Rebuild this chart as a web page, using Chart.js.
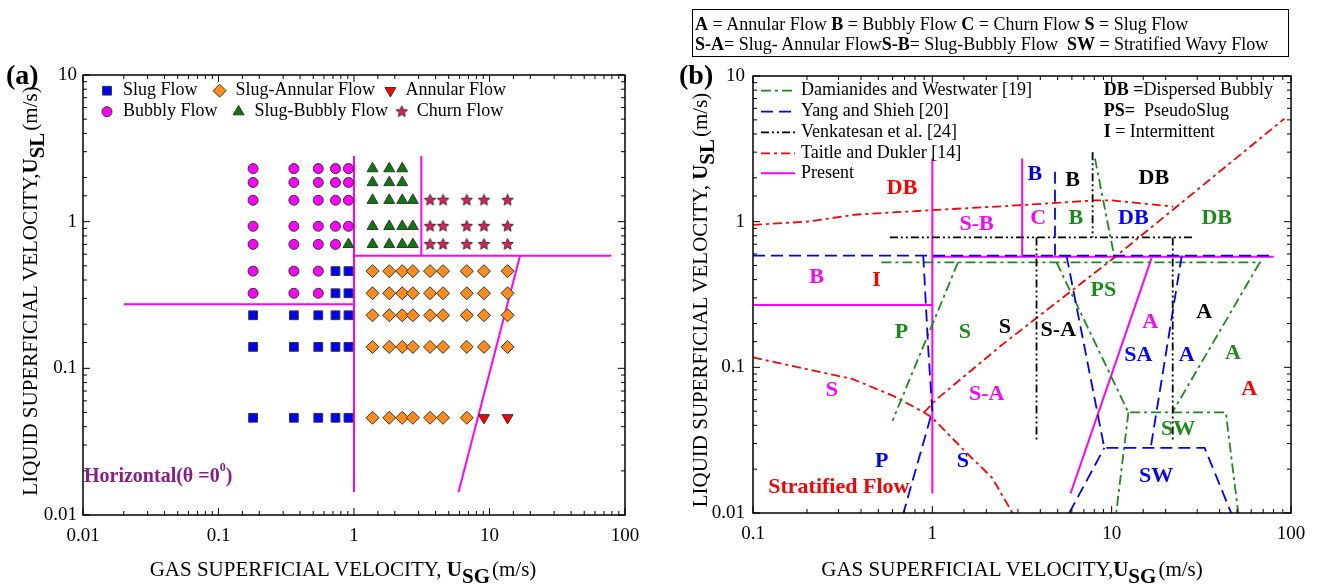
<!DOCTYPE html>
<html>
<head>
<meta charset="utf-8">
<script src="https://cdn.jsdelivr.net/npm/chart.js@4.4.1/dist/chart.umd.min.js"></script>
<style>
  body { margin:0; width:1318px; height:585px; background:#fff; overflow:hidden; position:relative;
         font-family:"Liberation Serif","Times New Roman",serif; }
  canvas { position:absolute; top:0; }
  #chartA { left:0; }
  #chartB { left:660px; }
  .txt { position:absolute; white-space:nowrap; color:#000; }
  .panel { font-size:28px; font-weight:bold; transform:translateY(-50%); }
  .xt { font-size:21px; transform:translate(-50%,-50%); }
  .yt { font-size:21px; transform:translate(-50%,-50%) rotate(-90deg); }
  .xt sub, .yt sub { font-size:1em; vertical-align:-0.35em; line-height:0; }
  .unit { font-size:1em; padding-left:2px; }
  #key { position:absolute; left:692px; top:9px; width:597px; height:48px; box-sizing:border-box;
         border:1px solid #000; font-size:18px; line-height:20px; padding:4px 0 0 2px; white-space:nowrap; }
</style>
</head>
<body>
<canvas id="chartA" width="660" height="585"></canvas>
<canvas id="chartB" width="658" height="585"></canvas>

<div id="key">
  <div><b>A</b> = Annular Flow <b>B</b> = Bubbly Flow <b>C</b> = Churn Flow <b>S</b> = Slug Flow</div>
  <div><b>S-A</b>= Slug- Annular Flow<b>S-B</b>= Slug-Bubbly Flow&nbsp; <b>SW</b> = Stratified Wavy Flow</div>
</div>
<div class="txt panel" style="left:6px;top:75px">(a)</div>
<div class="txt panel" style="left:679px;top:75px">(b)</div>
<div class="txt xt" style="left:343px;top:569px">GAS SUPERFICIAL VELOCITY, <b>U<sub>SG</sub></b><span class="unit">(m/s)</span></div>
<div class="txt xt" style="left:1012px;top:569px">GAS SUPERFICIAL VELOCITY,<b>U<sub>SG</sub></b><span class="unit">(m/s)</span></div>
<div class="txt yt" style="left:30px;top:291px">LIQUID SUPERFICIAL VELOCITY,<b>U<sub>SL</sub></b><span class="unit">(m/s)</span></div>
<div class="txt yt" style="left:700px;top:300px">LIQUID SUPERFICIAL VELOCITY, <b>U<sub>SL</sub></b><span class="unit">(m/s)</span></div>

<script>
// ---- panel (a): measured points ----
const gasA = [0.18, 0.36, 0.545, 0.73, 0.91, 1.37, 1.82, 2.27, 2.72, 3.64, 4.54, 6.8, 9.1, 13.6];
const liquidA = [2.3, 1.85, 1.4, 0.93, 0.7, 0.46, 0.325, 0.23, 0.14, 0.046];
// one letter per gas velocity: B bubbly, T slug-bubbly, C churn, S slug, D slug-annular, N annular, . none
const regimeRows = [
  'BBBBBTTT......',
  'BBBBBTTT......',
  'BBBBBTTTTCCCCC',
  'BBBBBTTTTCCCCC',
  'BBBBTTTTTCCCCC',
  'BBBSSDDDDDDDDD',
  'BBBSSDDDDDDDDD',
  'SSSSSDDDDDDDDD',
  'SSSSSDDDDDDDDD',
  'SSSSSDDDDDDDNN',
];
const regimeNames = { S: 'Slug Flow', D: 'Slug-Annular Flow', N: 'Annular Flow',
                      B: 'Bubbly Flow', T: 'Slug-Bubbly Flow', C: 'Churn Flow' };
const legendOrderA = ['S', 'D', 'N', 'B', 'T', 'C'];

// boundaries of panel (a), [x, y] in m/s
const presentA = [
  [[0.02, 0.273], [1, 0.273]],
  [[1, 2.8], [1, 0.0143]],
  [[1, 0.586], [79, 0.586]],
  [[3.14, 2.8], [3.14, 0.586]],
  [[5.9, 0.0143], [16.8, 0.586]],
];

// ---- panel (b): transition boundaries ----
const damianidesB = [
  [[0.52, 0.525], [68, 0.525]],
  [[1.39, 0.525], [0.6, 0.043]],
  [[8.07, 2.71], [10.5, 0.525]],
  [[4.93, 0.525], [12.4, 0.049], [43.3, 0.049], [50.8, 0.01]],
  [[12.4, 0.049], [10.6, 0.01]],
  [[67, 0.525], [21.8, 0.049]],
];
const yangB = [
  [[0.1, 0.585], [80, 0.585]],
  [[0.89, 0.585], [0.95, 0.13], [1.0, 0.05], [0.69, 0.01]],
  [[4.83, 2.2], [4.83, 0.585]],
  [[5.6, 0.585], [9.1, 0.028], [33, 0.028], [46.4, 0.01]],
  [[5.8, 0.01], [9.1, 0.028]],
  [[24.6, 0.585], [16.5, 0.028]],
];
const venkatesanB = [
  [[0.58, 0.78], [28.5, 0.78]],
  [[3.81, 0.78], [3.81, 0.031]],
  [[7.83, 3.0], [7.83, 0.78]],
  [[21.9, 0.78], [21.9, 0.031]],
];
const taitleB = [
  [[0.1, 0.95], [0.2, 1.0], [0.38, 1.12], [1, 1.2], [3.2, 1.3], [8, 1.4], [10, 1.4], [22, 1.27]],
  [[0.9, 0.049], [1.05, 0.06], [2.4, 0.14], [10.4, 0.57], [92, 5.1]],
  [[0.1, 0.117], [0.36, 0.083], [0.6, 0.064], [0.9, 0.049], [1.0, 0.045], [1.5, 0.027], [2.15, 0.0175], [2.8, 0.01]],
];
const presentB = [
  [[0.1, 0.268], [1, 0.268]],
  [[1, 2.71], [1, 0.0136]],
  [[1, 0.575], [80, 0.575]],
  [[3.17, 2.71], [3.17, 0.575]],
  [[5.9, 0.0136], [16.7, 0.562]],
];
const legendB = [
  ['dam', 'Damianides and Westwater [19]'],
  ['yan', 'Yang and Shieh [20]'],
  ['ven', 'Venkatesan et al. [24]'],
  ['tai', 'Taitle and Dukler [14]'],
  ['pre', 'Present'],
];
// regime labels: text, source, gas velocity, liquid velocity
const regionLabelsB = [
  ['DB', 'tai', 0.678, 1.69], ['S-B', 'pre', 1.765, 0.958], ['B', 'yan', 3.73, 2.12],
  ['C', 'pre', 3.89, 1.05], ['B', 'ven', 6.06, 1.92], ['B', 'dam', 6.32, 1.05],
  ['DB', 'ven', 17.2, 1.98], ['DB', 'yan', 13.2, 1.05], ['DB', 'dam', 38.5, 1.05],
  ['B', 'pre', 0.226, 0.416], ['I', 'tai', 0.489, 0.394], ['P', 'dam', 0.673, 0.174],
  ['S', 'dam', 1.52, 0.174], ['S', 'ven', 2.54, 0.188], ['S-A', 'ven', 5.04, 0.179],
  ['PS', 'dam', 8.98, 0.337], ['A', 'pre', 16.4, 0.204], ['A', 'ven', 32.8, 0.239],
  ['SA', 'yan', 14.1, 0.12], ['A', 'yan', 26.2, 0.12], ['A', 'dam', 47.5, 0.124],
  ['A', 'tai', 58.4, 0.071], ['S', 'pre', 0.275, 0.069], ['S-A', 'pre', 2.01, 0.0655],
  ['SW', 'dam', 23.5, 0.0376], ['P', 'yan', 0.522, 0.0228], ['S', 'yan', 1.48, 0.0228],
  ['SW', 'yan', 17.7, 0.0179], ['Stratified Flow', 'tai', 0.301, 0.0149],
];

// ---- styles ----
const FONT = 'Liberation Serif';
const lineStyles = {
  dam: { color: '#1a8a1a', dash: [10, 4, 3, 4], width: 1.8, order: 3 },
  yan: { color: '#0000ff', dash: [12, 6], width: 1.8, order: 1 },
  ven: { color: '#000000', dash: [8, 3, 2, 3, 2, 3], width: 1.8, order: 2 },
  tai: { color: '#ff0000', dash: [9, 4, 3, 4], width: 1.8, order: 4 },
  pre: { color: '#ff00ff', dash: [], width: 2, order: 5 },
};

function makeStar(r, fill) {
  const c = document.createElement('canvas');
  const s = Math.ceil(r * 2 + 3);
  c.width = c.height = s;
  const g = c.getContext('2d');
  g.beginPath();
  for (let i = 0; i < 10; i++) {
    const rr = i % 2 ? r * 0.45 : r;
    const ang = -Math.PI / 2 + i * Math.PI / 5;
    g.lineTo(s / 2 + rr * Math.cos(ang), s / 2 + rr * Math.sin(ang));
  }
  g.closePath();
  g.fillStyle = fill; g.fill();
  g.strokeStyle = '#333'; g.lineWidth = 1; g.stroke();
  return c;
}
const starImg = makeStar(6, '#e8185e');

const markerStyles = {
  S: { pointStyle: 'rect', radius: 6.2, rotation: 0, color: '#0000ff' },
  D: { pointStyle: 'rectRot', radius: 6.5, rotation: 0, color: '#ff8c1a' },
  N: { pointStyle: 'triangle', radius: 6.3, rotation: 180, color: '#ff0000' },
  B: { pointStyle: 'circle', radius: 5, rotation: 0, color: '#ff00ff' },
  T: { pointStyle: 'triangle', radius: 6.3, rotation: 0, color: '#0a7a0a' },
  C: { pointStyle: starImg, radius: 6, rotation: 0, color: '#e8185e' },
};

function logLabel(v) {
  const e = Math.log10(v), r = Math.round(e);
  return Math.abs(e - r) < 1e-6 ? String(Number(Math.pow(10, r).toFixed(Math.max(0, -r)))) : '';
}
function axis(min, max, pad, size, horizontal) {
  return {
    type: 'logarithmic', min, max,
    grid: { display: false, drawTicks: false },
    border: { display: false },
    ticks: { autoSkip: false, maxRotation: 0, padding: pad, color: '#000',
             font: { family: FONT, size: 19 }, callback: logLabel },
    afterFit: s => { if (horizontal) s.height = size; else s.width = size; },
  };
}
function lineSets(segs, key) {
  const st = lineStyles[key];
  return segs.map(seg => ({
    data: seg.map(([x, y]) => ({ x, y })),
    showLine: true, borderColor: st.color, borderWidth: st.width, borderDash: st.dash,
    pointRadius: 0, pointHoverRadius: 0, fill: false, tension: 0, order: st.order,
  }));
}

const frameTicks = {
  id: 'frameTicks',
  afterDraw(chart) {
    const { ctx, chartArea: a, scales } = chart;
    ctx.save();
    ctx.strokeStyle = '#000';
    ctx.lineWidth = 1;
    [scales.x, scales.y].forEach(s => {
      s.ticks.forEach(t => {
        const p = s.getPixelForValue(t.value);
        const len = logLabel(t.value) ? 7 : 4;
        ctx.beginPath();
        if (s.isHorizontal()) {
          ctx.moveTo(p, a.bottom); ctx.lineTo(p, a.bottom - len);
          ctx.moveTo(p, a.top); ctx.lineTo(p, a.top + len);
        } else {
          ctx.moveTo(a.left, p); ctx.lineTo(a.left + len, p);
          ctx.moveTo(a.right, p); ctx.lineTo(a.right - len, p);
        }
        ctx.stroke();
      });
    });
    ctx.lineWidth = 1.5;
    ctx.strokeRect(a.left, a.top, a.width, a.height);
    ctx.restore();
  },
};

function drawRich(ctx, parts, x, y, size) {
  ctx.textAlign = 'left';
  ctx.textBaseline = 'middle';
  parts.forEach(([text, bold]) => {
    ctx.font = (bold ? 'bold ' : '') + size + 'px ' + FONT;
    ctx.fillText(text, x, y);
    x += ctx.measureText(text).width;
  });
  return x;
}

function drawMarker(ctx, key, x, y) {
  const m = markerStyles[key];
  if (typeof m.pointStyle !== 'string') {
    ctx.drawImage(m.pointStyle, x - m.pointStyle.width / 2, y - m.pointStyle.height / 2);
    return;
  }
  ctx.fillStyle = m.color;
  ctx.strokeStyle = '#333';
  ctx.lineWidth = 1;
  Chart.helpers.drawPoint(ctx, { pointStyle: m.pointStyle, radius: m.radius, rotation: m.rotation, borderWidth: 1 }, x, y);
}

// ---- chart (a) ----
const pointSetsA = legendOrderA.map(key => {
  const data = [];
  regimeRows.forEach((row, i) => {
    [...row].forEach((c, j) => { if (c === key) data.push({ x: gasA[j], y: liquidA[i] }); });
  });
  const m = markerStyles[key];
  return {
    label: regimeNames[key], data, order: 0,
    pointStyle: m.pointStyle, pointRadius: m.radius, pointRotation: m.rotation,
    pointBackgroundColor: m.color, pointBorderColor: '#333', pointBorderWidth: 1,
  };
});

const decorA = {
  id: 'decorA',
  afterDraw(chart) {
    const { ctx, chartArea: a } = chart;
    ctx.save();
    const rows = [[24, 136.6, 307.4], [24, 155.6, 318.8]];
    const textDx = [16, 16, 15];
    legendOrderA.forEach((key, i) => {
      const r = Math.floor(i / 3), c = i % 3;
      const x = a.left + rows[r][c], y = a.top + (r ? 36.7 : 15.7);
      drawMarker(ctx, key, x, y);
      ctx.fillStyle = '#000';
      drawRich(ctx, [[regimeNames[key], false]], x + textDx[c], y, 18);
    });
    ctx.fillStyle = '#8b1a8b';
    const yH = 476.7;
    let x = drawRich(ctx, [['Horizontal(', true], ['\u03B8', true], [' =0', true]], a.left + 1, yH, 20);
    ctx.font = 'bold 12px ' + FONT;
    ctx.fillText('0', x, yH - 9);
    x += ctx.measureText('0').width;
    drawRich(ctx, [[')', true]], x, yH, 20);
    ctx.restore();
  },
};

new Chart(document.getElementById('chartA'), {
  type: 'scatter',
  data: { datasets: [...pointSetsA, ...lineSets(presentA, 'pre')] },
  options: {
    responsive: false, animation: false, events: [],
    layout: { padding: { left: 0, right: 35, top: 75, bottom: 0 } },
    scales: { x: axis(0.01, 100, 10, 70, true), y: axis(0.01, 10, 6, 83, false) },
    plugins: { legend: { display: false }, tooltip: { enabled: false } },
  },
  plugins: [frameTicks, decorA],
});

// ---- chart (b) ----
const decorB = {
  id: 'decorB',
  afterDraw(chart) {
    const { ctx, chartArea: a, scales } = chart;
    ctx.save();
    legendB.forEach(([key, text], i) => {
      const st = lineStyles[key];
      const y = a.top + [14.7, 35.7, 56.3, 77.3, 97.3][i];
      ctx.strokeStyle = st.color;
      ctx.lineWidth = st.width;
      ctx.setLineDash(st.dash);
      ctx.beginPath();
      ctx.moveTo(a.left + 8, y); ctx.lineTo(a.left + 42, y);
      ctx.stroke();
      ctx.setLineDash([]);
      ctx.fillStyle = '#000';
      drawRich(ctx, [[text, false]], a.left + 48, y, 18);
    });
    ctx.fillStyle = '#000';
    const rx = a.left + 350.7;
    drawRich(ctx, [['DB', true], [' =', true], ['Dispersed Bubbly', false]], rx, a.top + 14.7, 18);
    drawRich(ctx, [['PS=', true], ['  PseudoSlug', false]], rx, a.top + 35.7, 18);
    drawRich(ctx, [['I', true], [' = Intermittent', false]], rx, a.top + 56.3, 18);

    ctx.textAlign = 'center';
    ctx.textBaseline = 'middle';
    regionLabelsB.forEach(([text, key, gx, ly]) => {
      ctx.font = 'bold 22px ' + FONT;
      ctx.fillStyle = lineStyles[key].color;
      ctx.fillText(text, scales.x.getPixelForValue(gx), scales.y.getPixelForValue(ly));
    });
    ctx.restore();
  },
};

new Chart(document.getElementById('chartB'), {
  type: 'scatter',
  data: {
    datasets: [
      ...lineSets(presentB, 'pre'), ...lineSets(damianidesB, 'dam'), ...lineSets(taitleB, 'tai'),
      ...lineSets(venkatesanB, 'ven'), ...lineSets(yangB, 'yan'),
    ],
  },
  options: {
    responsive: false, animation: false, events: [],
    layout: { padding: { left: 0, right: 27, top: 76, bottom: 0 } },
    scales: { x: axis(0.1, 100, 10, 72, true), y: axis(0.01, 10, 8, 93, false) },
    plugins: { legend: { display: false }, tooltip: { enabled: false } },
  },
  plugins: [frameTicks, decorB],
});
</script>
</body>
</html>
